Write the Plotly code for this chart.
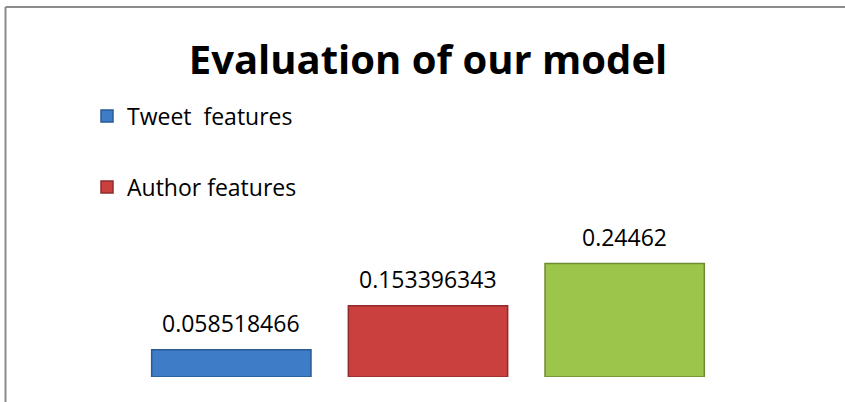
import plotly.graph_objects as go

categories = ["Tweet features", "Author features", "Combined"]
legend_names = ["Tweet\u00a0 features", "Author features", "Combined"]
values = [0.058518466, 0.153396343, 0.24462]
value_labels = ["0.058518466", "0.153396343", "0.24462"]
colors = ["#3f7cc8", "#c9403f", "#9cc64b"]
edge_colors = ["#2a5a94", "#8f2c2b", "#6c8c31"]
legend_refs = ["legend", "legend2", "legend"]
show_legend = [True, True, False]

fig = go.Figure()
for i in range(3):
    fig.add_trace(go.Bar(
        x=[categories[i]], y=[values[i]], name=legend_names[i],
        marker=dict(color=colors[i], line=dict(color=edge_colors[i], width=1.5)),
        showlegend=show_legend[i], legend=legend_refs[i],
        hoverinfo="skip",
    ))
    fig.add_annotation(
        x=categories[i], y=values[i], text=value_labels[i], showarrow=False,
        yanchor="middle", yshift=27,
        font=dict(family="Open Sans", size=23, color="#000000"),
    )

fig.update_layout(
    width=845, height=402,
    margin=dict(l=133, r=122, t=6, b=25, autoexpand=False),
    paper_bgcolor="white", plot_bgcolor="white",
    barmode="overlay", bargap=0.19,
    title=dict(text="<b>Evaluation of our model</b>", x=428 / 845, xref="container",
               xanchor="center", y=1 - 60 / 402, yref="container", yanchor="middle",
               automargin=False,
               font=dict(family="Open Sans", size=40, color="#000000")),
    legend=dict(x=87 / 845, xref="container", y=1 - 116 / 402, yref="container",
                xanchor="left", yanchor="middle", bgcolor="rgba(0,0,0,0)",
                font=dict(family="Open Sans", size=23, color="#000000")),
    legend2=dict(x=87 / 845, xref="container", y=1 - 187 / 402, yref="container",
                 xanchor="left", yanchor="middle", bgcolor="rgba(0,0,0,0)",
                 font=dict(family="Open Sans", size=23, color="#000000")),
    xaxis=dict(type="category", categoryorder="array", categoryarray=categories,
               range=[-0.5, 2.5], showticklabels=False, showgrid=False,
               zeroline=False, showline=False, ticks=""),
    yaxis=dict(range=[0, 0.8], showticklabels=False, showgrid=False,
               zeroline=False, showline=False, ticks=""),
    shapes=[
        dict(type="line", xref="paper", yref="paper",
             x0=(5.5 - 133) / 590, x1=(846 - 133) / 590,
             y0=(377 - 7) / 371, y1=(377 - 7) / 371,
             line=dict(color="#8c8c8c", width=2)),
        dict(type="line", xref="paper", yref="paper",
             x0=(5.5 - 133) / 590, x1=(5.5 - 133) / 590,
             y0=(377 - 7) / 371, y1=(377 - 403) / 371,
             line=dict(color="#8c8c8c", width=2)),
    ],
)

fig.write_html(
    "out.html",
    config={"displayModeBar": False},
    post_script="document.body.style.margin='0px';document.body.style.overflow='hidden';",
)
